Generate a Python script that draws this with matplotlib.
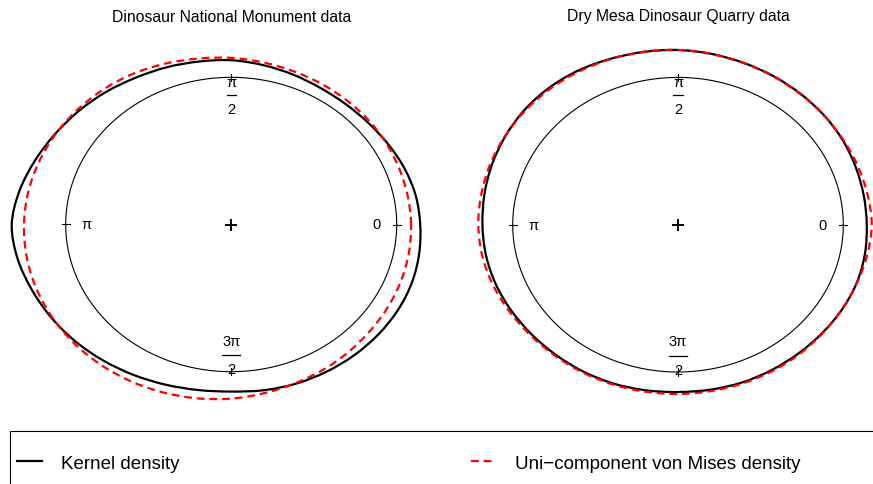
import numpy as np
import matplotlib
matplotlib.use("Agg")
import matplotlib.pyplot as plt
from matplotlib.path import Path
from matplotlib.patches import PathPatch
from matplotlib.lines import Line2D

plt.rcParams['font.family'] = ['Liberation Sans', 'DejaVu Sans']

# angles (degrees) at which the densities were evaluated
angles_deg = np.arange(0, 360, 10)

# curve radius = 1 + scaled density, Dinosaur National Monument
dnm_kernel = [1.142, 1.132, 1.114, 1.094, 1.078, 1.071, 1.073, 1.085, 1.100, 1.116,
              1.124, 1.137, 1.152, 1.176, 1.201, 1.229, 1.263, 1.300, 1.326, 1.312,
              1.284, 1.258, 1.232, 1.205, 1.180, 1.158, 1.142, 1.135, 1.143, 1.150,
              1.154, 1.158, 1.161, 1.163, 1.161, 1.153]
dnm_vonmises = [1.087, 1.084, 1.084, 1.087, 1.091, 1.095, 1.100, 1.107, 1.118, 1.132,
                1.145, 1.163, 1.183, 1.199, 1.213, 1.226, 1.237, 1.246, 1.252, 1.255,
                1.255, 1.252, 1.246, 1.237, 1.226, 1.213, 1.199, 1.183, 1.163, 1.145,
                1.132, 1.118, 1.107, 1.100, 1.095, 1.091]

# Dry Mesa Dinosaur Quarry
dmq_kernel = [1.142, 1.141, 1.144, 1.150, 1.154, 1.157, 1.162, 1.168, 1.177, 1.186,
              1.191, 1.198, 1.208, 1.213, 1.212, 1.205, 1.197, 1.189, 1.183, 1.180,
              1.174, 1.165, 1.157, 1.152, 1.150, 1.147, 1.141, 1.136, 1.137, 1.139,
              1.138, 1.138, 1.141, 1.147, 1.151, 1.148]
dmq_vonmises = [1.172, 1.165, 1.158, 1.154, 1.153, 1.155, 1.160, 1.167, 1.176, 1.186,
                1.192, 1.196, 1.200, 1.204, 1.206, 1.207, 1.208, 1.208, 1.208, 1.203,
                1.192, 1.178, 1.166, 1.160, 1.157, 1.154, 1.151, 1.149, 1.147, 1.146,
                1.146, 1.145, 1.144, 1.147, 1.153, 1.163]

titles = ["Dinosaur National Monument data", "Dry Mesa Dinosaur Quarry data"]
legend_labels = ["Kernel density", "Uni\u2212component von Mises density"]

W, H = 873, 485
fig = plt.figure(figsize=(W / 100, H / 100), dpi=100)

# pixel geometry of each circle: centre x, centre y, x radius, y radius
panels = [(231.2, 225.5, 165.5, 147.2), (678.0, 225.7, 165.3, 147.3)]
lim = 1.38

KERN = dict(edgecolor='black', lw=1.6)
VM = dict(edgecolor='#ff0000', lw=1.6, linestyle=(0, (3.5, 2.2)))


def density_path(vals):
    # closed smooth curve (Catmull-Rom -> cubic Bezier) through the samples
    th = np.deg2rad(angles_deg)
    r = np.asarray(vals)
    p = np.column_stack([r * np.cos(th), r * np.sin(th)])
    n = len(p)
    verts = [p[0]]
    codes = [Path.MOVETO]
    for i in range(n):
        p0, p1, p2, p3 = p[i - 1], p[i], p[(i + 1) % n], p[(i + 2) % n]
        verts += [p1 + (p2 - p0) / 6, p2 - (p3 - p1) / 6, p2]
        codes += [Path.CURVE4] * 3
    return Path(verts, codes)


for (cx, cy, rx, ry), title, kern, vm in zip(
        panels, titles, [dnm_kernel, dmq_kernel], [dnm_vonmises, dmq_vonmises]):
    left = (cx - lim * rx) / W
    bottom = (H - (cy + lim * ry)) / H
    ax = fig.add_axes([left, bottom, 2 * lim * rx / W, 2 * lim * ry / H])
    ax.set_xlim(-lim, lim)
    ax.set_ylim(-lim, lim)
    ax.axis('off')

    # unit circle
    t = np.linspace(0, 2 * np.pi, 400)
    ax.plot(np.cos(t), np.sin(t), color='black', lw=0.8)
    # ticks at 0, pi/2, pi, 3pi/2
    for a in np.deg2rad([0, 90, 180, 270]):
        ax.plot([0.975 * np.cos(a), 1.025 * np.cos(a)],
                [0.975 * np.sin(a), 1.025 * np.sin(a)], color='black', lw=0.8)
    ax.plot([0], [0], marker='+', color='black', ms=8, mew=1.4)

    # axis labels
    fs = 10.5
    ax.text(0.875, 0, "0", ha='center', va='center', fontsize=fs)
    ax.text(-0.875, 0, "\u03c0", ha='center', va='center', fontsize=fs)
    ax.text(0, 0.971, "\u03c0", ha='center', va='center', fontsize=fs)
    ax.plot([-0.028, 0.028], [0.882, 0.882], color='black', lw=0.9)
    ax.text(0, 0.784, "2", ha='center', va='center', fontsize=fs)
    ax.text(0, -0.789, "3\u03c0", ha='center', va='center', fontsize=fs)
    ax.plot([-0.054, 0.054], [-0.889, -0.889], color='black', lw=0.9)
    ax.text(0, -0.984, "2", ha='center', va='center', fontsize=fs)

    ax.add_patch(PathPatch(density_path(kern), fill=False, clip_on=False, **KERN))
    ax.add_patch(PathPatch(density_path(vm), fill=False, clip_on=False,
                           capstyle='butt', **VM))

    fig.text(cx / W, 1 - 17 / H, title, ha='center', va='center', fontsize=11.3)

# legend box along the bottom edge
fig.patches.append(plt.Rectangle((10 / W, -0.1), 1.2, (H - 432) / H + 0.1,
                                 transform=fig.transFigure, fill=False,
                                 edgecolor='black', lw=0.8))
handles = [Line2D([], [], color='black', lw=1.6),
           Line2D([], [], color='#ff0000', lw=1.6, dashes=(3.5, 2.2))]
for h, lab, x0 in zip(handles, legend_labels, [17, 471]):
    fig.legend([h], [lab], loc='center left',
               bbox_to_anchor=(x0 / W, 1 - 464 / H), frameon=False,
               fontsize=13.5, handlelength=1.35, handletextpad=1.0,
               borderpad=0, borderaxespad=0)

fig.savefig("out.png", dpi=100)
